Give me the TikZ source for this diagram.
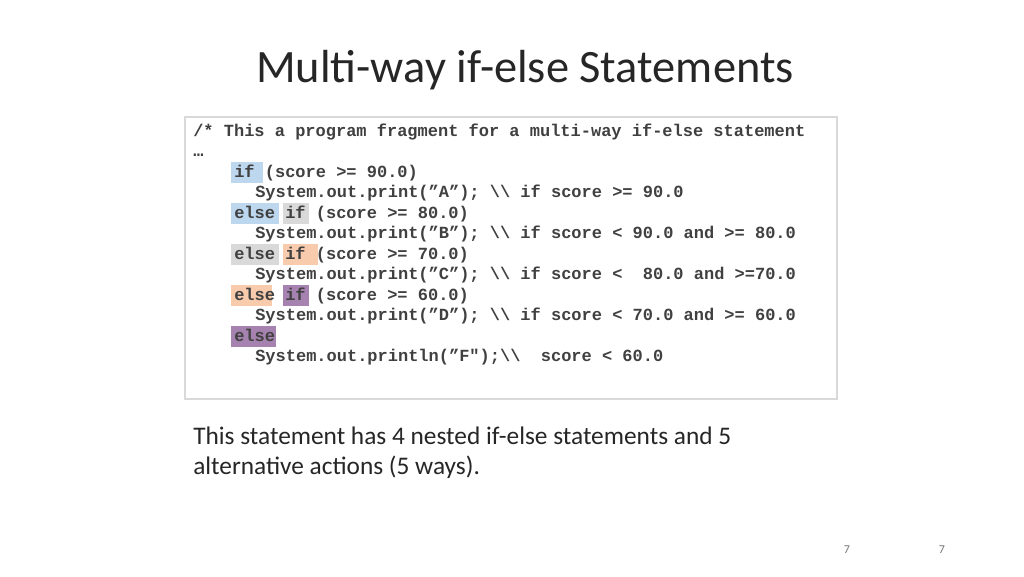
\documentclass[tikz,border=0pt]{standalone}
\usepackage{fontspec}
\setmainfont{Carlito}
\newfontfamily\codefont{Liberation Mono}
\definecolor{hblue}{HTML}{BDD7EE}
\definecolor{hgray}{HTML}{D9D9D9}
\definecolor{horange}{HTML}{F8CBAD}
\definecolor{hpurple}{HTML}{A682B0}
\definecolor{codetext}{HTML}{404040}
\begin{document}
\begin{tikzpicture}[x=0.75pt,y=-0.75pt,
  code/.style={anchor=base west,inner sep=0pt,font=\codefont\bfseries\fontsize{12.75}{14}\selectfont,text=codetext},
  body/.style={anchor=base west,inner sep=0pt,font=\fontsize{19}{22.5}\selectfont,text=black!85}]
\useasboundingbox (0,0) rectangle (1024,576);
\node[anchor=center,font=\fontsize{34.8}{40}\selectfont,text=black!85] (title) at (525,70) {Multi-way if-else Statements};
\draw[draw=black!15,line width=0.8pt] (185,117) rectangle (837,399);
% highlights
\fill[hblue] (231,162) rectangle (263,183);
\fill[hblue] (231,203) rectangle (279,224);
\fill[hgray] (283,203) rectangle (309,224);
\fill[hgray] (231,244) rectangle (279,265);
\fill[horange] (283,244) rectangle (318,265);
\fill[horange] (231,285) rectangle (272,306);
\fill[hpurple] (283,285) rectangle (309,306);
\fill[hpurple] (231,326) rectangle (276,347);
\foreach \n/\x/\y/\t in {
 l0/193/136/{/* This a program fragment for a multi-way if-else statement},
 l1/193/156/{…},
 l2/234/177/{if (score >= 90.0)},
 l3/255/197/{System.out.print(”A”); \textbackslash\textbackslash{} if score >= 90.0},
 l4/234/218/{else if (score >= 80.0)},
 l5/255/238/{System.out.print(”B”); \textbackslash\textbackslash{} if score < 90.0 and >= 80.0},
 l6/234/259/{else if (score >= 70.0)},
 l7/255/279/{System.out.print(”C”); \textbackslash\textbackslash{} if score <\ \ 80.0 and >=70.0},
 l8/234/300/{else if (score >= 60.0)},
 l9/255/320/{System.out.print(”D”); \textbackslash\textbackslash{} if score < 70.0 and >= 60.0},
 l10/234/341/{else},
 l11/255/361/{System.out.println(”F");\textbackslash\textbackslash\ \ score < 60.0}}
 \node[code] (\n) at (\x,\y) {\t};
\node[body] (body1) at (193,444) {This statement has 4 nested if-else statements and 5};
\node[body] (body2) at (193,474) {alternative actions (5 ways).};
\node[font=\fontsize{9}{10}\selectfont,text=black!55] (p1) at (847,550) {7};
\node[font=\fontsize{9}{10}\selectfont,text=black!55] (p2) at (942,550) {7};
\end{tikzpicture}
\end{document}
